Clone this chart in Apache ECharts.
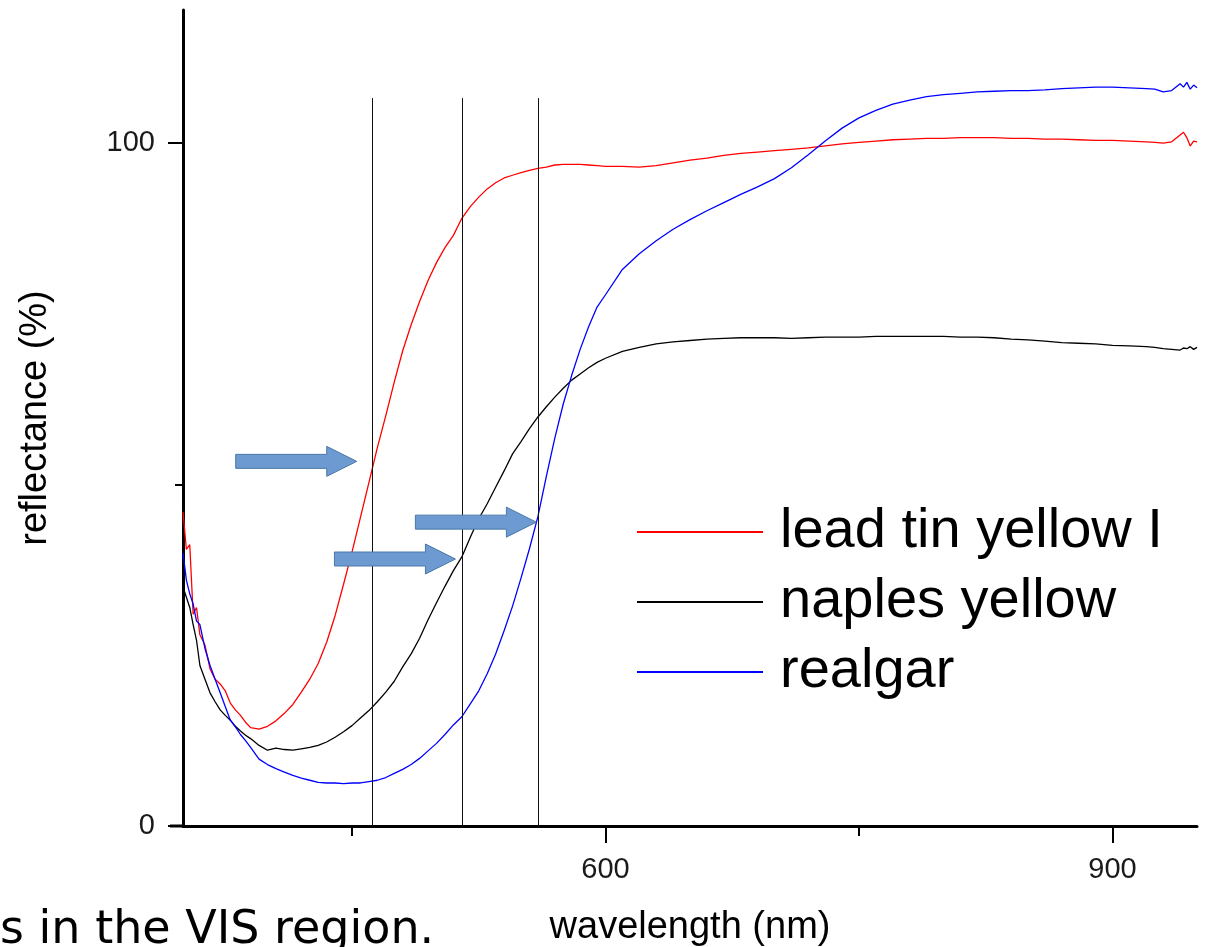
<!DOCTYPE html>
<html>
<head>
<meta charset="utf-8">
<script src="https://cdn.jsdelivr.net/npm/echarts@6/dist/echarts.min.js"></script>
<style>
html,body{margin:0;padding:0;background:#fff;}
#chart{width:1206px;height:947px;}
</style>
</head>
<body>
<div id="chart"></div>
<script>
// ---- data ----
const wavelengths = [350,352,354,356,358,360,363,366,369,372,375,378,381,384,387,390,395,400,405,410,415,420,425,430,435,440,445,450,455,460,465,470,475,480,485,490,495,500,505,510,515,520,525,530,535,540,545,550,555,560,565,570,575,580,585,590,595,600,610,620,630,640,650,660,670,680,690,700,710,720,730,740,750,760,770,780,790,800,810,820,830,840,850,860,870,880,890,900,910,920,925,930,935,940,942,944,946,948,950];

const leadTinYellow = [46,40.5,41.2,31,32,28,26.5,23,21.5,20.8,19.8,18,17,16.2,15.2,14.4,14.2,14.6,15.4,16.5,17.8,19.6,21.5,23.8,26.9,30.8,35.4,40.1,45.2,50.3,55.4,60.1,65,69.6,73.4,76.8,79.9,82.5,84.7,86.5,89,90.7,92.1,93.3,94.2,94.9,95.3,95.7,96.0,96.3,96.5,96.8,96.9,96.9,96.9,96.8,96.7,96.6,96.6,96.5,96.7,97.1,97.5,97.8,98.2,98.5,98.7,98.9,99.1,99.3,99.6,99.9,100.1,100.3,100.5,100.6,100.7,100.7,100.8,100.8,100.8,100.7,100.7,100.6,100.6,100.5,100.4,100.4,100.3,100.2,100.1,100.0,100.2,101.2,101.6,100.8,99.6,100.3,100.2];

const naplesYellow = [35,33.5,32,29.5,27.2,23.5,21.5,19.5,18.2,17,16.2,15.5,14.6,13.9,13.3,12.8,11.8,11.1,11.4,11.2,11.1,11.3,11.5,11.8,12.3,13.0,13.8,14.7,15.8,16.9,18.2,19.6,21.2,23.3,25.2,27.5,30.2,32.7,35.1,37.4,39.4,42.3,45.0,47.2,49.6,52.0,54.5,56.3,58.2,59.9,61.4,62.8,64.1,65.3,66.2,67.1,67.9,68.5,69.5,70.1,70.6,70.9,71.1,71.3,71.4,71.5,71.5,71.5,71.4,71.5,71.6,71.6,71.6,71.7,71.7,71.7,71.7,71.7,71.6,71.6,71.5,71.3,71.2,71.0,70.8,70.7,70.6,70.4,70.3,70.2,70.1,69.9,69.8,69.7,70.0,69.9,70.2,69.8,70.1];

const realgar = [40,36,34,32.5,30,29.5,26,23.5,21.5,19.5,17.5,15.5,14.5,13.4,12.5,11.5,9.8,9.0,8.4,7.9,7.4,7.0,6.7,6.4,6.3,6.3,6.2,6.3,6.3,6.5,6.7,7.1,7.7,8.3,9.0,9.9,11.0,12.1,13.4,14.8,16.0,17.9,19.8,22.3,25.2,28.6,32.2,36.3,40.6,45.3,51.2,56.8,61.8,66.0,69.8,73.1,76,77.8,81.5,83.8,85.7,87.4,88.8,90.1,91.3,92.5,93.6,94.8,96.4,98.3,100.3,102.2,103.7,104.8,105.7,106.3,106.8,107.1,107.3,107.5,107.6,107.7,107.7,107.8,108.0,108.1,108.2,108.2,108.1,108.0,107.9,107.5,107.7,108.7,108.2,108.9,107.9,108.5,108.1];

const seriesNames = ['lead tin yellow I', 'naples yellow', 'realgar'];
const xMajorTicks = [600, 900];
const xMinorTicks = [450, 750];
const yMajorTicks = [0, 100];
const yMinorTicks = [50];
const markerWavelengths = [462, 515, 560];
const markerTop = 106.6;
// arrow tips (wavelength, reflectance)
const arrowTips = [[452.8, 53.4], [511.2, 39.1], [559.1, 44.5]];
const captionText = 's in the VIS region.';

// ---- chart ----
const pairs = arr => wavelengths.map((w, i) => [w, arr[i]]);
const FONT = 'Liberation Sans, Arial, sans-serif';
const chart = echarts.init(document.getElementById('chart'), null, {renderer: 'canvas'});

const axisBaseX = {
  type: 'value', min: 350, max: 950, position: 'bottom',
  splitLine: {show: false}
};
const axisBaseY = {
  type: 'value', min: 0, max: 119.5, position: 'left',
  splitLine: {show: false}
};

const option = {
  animation: false,
  backgroundColor: '#fff',
  grid: {left: 183, right: 9, top: 10, bottom: 121, containLabel: false, outerBoundsMode: 'none'},
  legend: {
    orient: 'vertical', left: 637, top: 504, padding: 0,
    itemWidth: 126, itemHeight: 2, itemGap: 14, icon: 'rect',
    textStyle: {fontSize: 56, fontFamily: FONT, color: '#000', lineHeight: 56, padding: [0, 0, 0, 12]},
    data: seriesNames
  },
  xAxis: [
    Object.assign({}, axisBaseX, {
      axisLine: {show: true, onZero: false, lineStyle: {color: '#000', width: 3}},
      axisTick: {show: true, length: 17, customValues: xMajorTicks, lineStyle: {color: '#000', width: 2}},
      axisLabel: {customValues: xMajorTicks, margin: 29, fontSize: 29, fontFamily: FONT, color: '#1a1a1a'},
      name: 'wavelength (nm)', nameLocation: 'middle', nameGap: 83,
      nameTextStyle: {fontSize: 38, fontFamily: FONT, color: '#000'}
    }),
    Object.assign({}, axisBaseX, {
      axisLine: {show: false, onZero: false},
      axisTick: {show: true, length: 10, customValues: xMinorTicks, lineStyle: {color: '#000', width: 2}},
      axisLabel: {show: false}
    })
  ],
  yAxis: [
    Object.assign({}, axisBaseY, {
      axisLine: {show: true, onZero: false, lineStyle: {color: '#000', width: 3}},
      axisTick: {show: true, length: 15, customValues: yMajorTicks, lineStyle: {color: '#000', width: 2}},
      axisLabel: {customValues: yMajorTicks, margin: 28, fontSize: 29, fontFamily: FONT, color: '#1a1a1a'},
      name: 'reflectance (%)', nameLocation: 'middle', nameGap: 128,
      nameTextStyle: {fontSize: 38, fontFamily: FONT, color: '#000'}
    }),
    Object.assign({}, axisBaseY, {
      axisLine: {show: false, onZero: false},
      axisTick: {show: true, length: 8, customValues: yMinorTicks, lineStyle: {color: '#000', width: 2}},
      axisLabel: {show: false}
    })
  ],
  series: [
    {
      name: seriesNames[0], type: 'line', data: pairs(leadTinYellow),
      showSymbol: false, symbol: 'none', color: '#ff0000',
      lineStyle: {width: 1.3, color: '#ff0000'}, z: 3,
      markLine: {
        silent: true, symbol: 'none', label: {show: false},
        lineStyle: {color: '#111', width: 1, type: 'solid'},
        data: markerWavelengths.map(w => [{coord: [w, 0]}, {coord: [w, markerTop]}])
      }
    },
    {
      name: seriesNames[1], type: 'line', data: pairs(naplesYellow),
      showSymbol: false, symbol: 'none', color: '#000000',
      lineStyle: {width: 1.3, color: '#000000'}, z: 3
    },
    {
      name: seriesNames[2], type: 'line', data: pairs(realgar),
      showSymbol: false, symbol: 'none', color: '#0000ff',
      lineStyle: {width: 1.3, color: '#0000ff'}, z: 3
    }
  ]
};
chart.setOption(option);

// ---- annotations: arrows, extended axis stub, caption ----
function arrowPolygon(tip) {
  const p = chart.convertToPixel({xAxisIndex: 0, yAxisIndex: 0}, tip);
  const tx = p[0], ty = p[1];
  const L = 121, headL = 30, shaftH = 7, headH = 15;
  return [[tx - L, ty - shaftH], [tx - headL, ty - shaftH], [tx - headL, ty - headH], [tx, ty],
          [tx - headL, ty + headH], [tx - headL, ty + shaftH], [tx - L, ty + shaftH]];
}
const origin = chart.convertToPixel({xAxisIndex: 0, yAxisIndex: 0}, [350, 0]);
const graphics = arrowTips.map(t => ({
  type: 'polygon', z: 10,
  shape: {points: arrowPolygon(t)},
  style: {fill: '#6d9ad0', stroke: '#4a78aa', lineWidth: 1}
}));
graphics.push({
  type: 'line', z: 5,
  shape: {x1: origin[0] - 13, y1: origin[1], x2: origin[0], y2: origin[1]},
  style: {stroke: '#000', lineWidth: 3}
});
graphics.push({
  type: 'text', z: 10, x: 0, y: 931,
  style: {text: captionText, font: '46px "DejaVu Sans"', fill: '#000', verticalAlign: 'middle', align: 'left'}
});
chart.setOption({graphic: graphics});
</script>
</body>
</html>
